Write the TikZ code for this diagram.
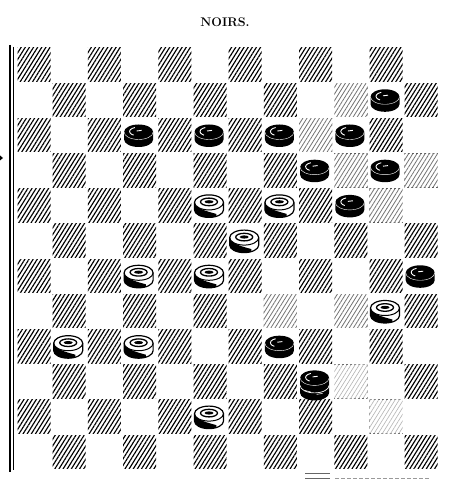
\documentclass[tikz,border=0pt]{standalone}
\usetikzlibrary{patterns.meta}
\tikzset{
  hatch/.style={pattern={Lines[angle=58,distance=3.5pt,line width=1.15pt]},pattern color=black},
  hatchlight/.style={pattern={Lines[angle=58,distance=3.5pt,line width=0.8pt]},pattern color=black!55},
  hatchfaint/.style={pattern={Lines[angle=58,distance=3.5pt,line width=0.6pt]},pattern color=black!30},
  blackpiece/.pic={
    \fill (-14.5,3) -- (-14.5,-4.5) arc[start angle=180,end angle=360,x radius=14.5,y radius=7.5]
      -- (14.5,3) arc[start angle=0,end angle=180,x radius=14.5,y radius=7.5] -- cycle;
    \draw[white,line width=0.4] (-14.5,3) arc[start angle=180,end angle=360,x radius=14.5,y radius=7.5];
    \draw[white,line width=0.9] (-1,3.5) ++(110:8 and 4.2) arc[start angle=110,end angle=240,x radius=8,y radius=4.2];
    \draw[white,line width=0.9] (-2,4) -- (3,4.6);
  },
  whitepiece/.pic={
    \filldraw[fill=white,line width=1.2] (-14.5,3) -- (-14.5,-4.5) arc[start angle=180,end angle=360,x radius=14.5,y radius=7.5]
      -- (14.5,3) arc[start angle=0,end angle=180,x radius=14.5,y radius=7.5] -- cycle;
    \fill (-14.5,3) -- (-14.5,-4.5) arc[start angle=180,end angle=300,x radius=14.5,y radius=7.5]
      -- ++(0,2.5) .. controls (-2,-6) and (-9,-4) .. (-13.5,0) -- cycle;
    \draw[line width=1] (-14.5,3) arc[start angle=180,end angle=360,x radius=14.5,y radius=7.5];
    \draw[line width=1.3] (0,3.5) ellipse[x radius=8.5,y radius=3.8];
    \fill (0,3.6) ellipse[x radius=4.5,y radius=1.6];
  },
  blackking/.pic={
    \fill (-14.5,3.5) -- (-14.5,-11.5) arc[start angle=180,end angle=360,x radius=14.5,y radius=7.5]
      -- (14.5,3.5) arc[start angle=0,end angle=180,x radius=14.5,y radius=7.5] -- cycle;
    \draw[white,line width=0.4] (-14.5,3.5) arc[start angle=180,end angle=360,x radius=14.5,y radius=7.5];
    \draw[white,line width=0.7] (-14.5,-4) arc[start angle=180,end angle=360,x radius=14.5,y radius=7.5];
    \draw[white,line width=0.5] (-10,-9) -- (-4,-10.5) (2,-13) -- (8,-12);
    \draw[white,line width=0.9] (-1,4) ++(110:8 and 4.2) arc[start angle=110,end angle=240,x radius=8,y radius=4.2];
    \draw[white,line width=0.9] (-2,4.5) -- (3,5.1);
  }
}
\begin{document}
\begin{tikzpicture}[x=1pt,y=1pt]
  \useasboundingbox (0,0) rectangle (468,484);
  \node[font=\fontsize{12.5}{14}\selectfont\bfseries] (title) at (225,462) {NOIRS.};
  % left border
  \draw[line width=2.2] (10,439) -- (10,12);
  \draw[line width=0.8] (13.5,437) -- (13.5,14);
  \fill (0,328.5) -- (3,326) -- (0,323.5) -- cycle;
  % squares
  \foreach \r in {0,...,11}{
    \foreach \c in {0,...,11}{
      \pgfmathtruncatemacro{\parity}{mod(\r+\c,2)}
      \ifnum\parity=0
        \fill[hatch] ({17+35.2*\c+0.5},{437-35.2*\r-1}) rectangle ++(33,-33.5);
      \fi
    }
  }
  \foreach \r/\c in {1/9,2/8,3/9,3/11,4/10,7/7,7/9}{
    \fill[white] ({17+35.2*\c+0.5},{437-35.2*\r-1}) rectangle ++(33,-33.5);
    \fill[hatchlight] ({17+35.2*\c+0.5},{437-35.2*\r-1}) rectangle ++(33,-33.5);
  }
  \foreach \r/\c in {9/9,10/10}{
    \fill[white] ({17+35.2*\c+0.5},{437-35.2*\r-1}) rectangle ++(33,-33.5);
    \fill[hatchfaint] ({17+35.2*\c+0.5},{437-35.2*\r-1}) rectangle ++(33,-33.5);
  }
  % pieces
  \foreach \r/\c in {1/10,2/3,2/5,2/7,2/9,3/8,3/10,4/9,6/11,8/7}
    \pic at ({17+35.2*\c+16},{437-35.2*\r-17.6}) {blackpiece};
  \foreach \r/\c in {4/5,4/7,5/6,6/3,6/5,7/10,8/1,8/3,10/5}
    \pic at ({17+35.2*\c+16},{437-35.2*\r-17.6}) {whitepiece};
  \pic at ({17+35.2*8+16},{437-35.2*9-17.6}) {blackking};
  % bottom rules
  \draw[black!60,line width=0.6] (305,11) -- (330,11) (305,5.5) -- (330,5.5);
  \draw[black!40,line width=0.5,dash pattern=on 4pt off 2pt] (335,6) -- (430,6);
\end{tikzpicture}
\end{document}
